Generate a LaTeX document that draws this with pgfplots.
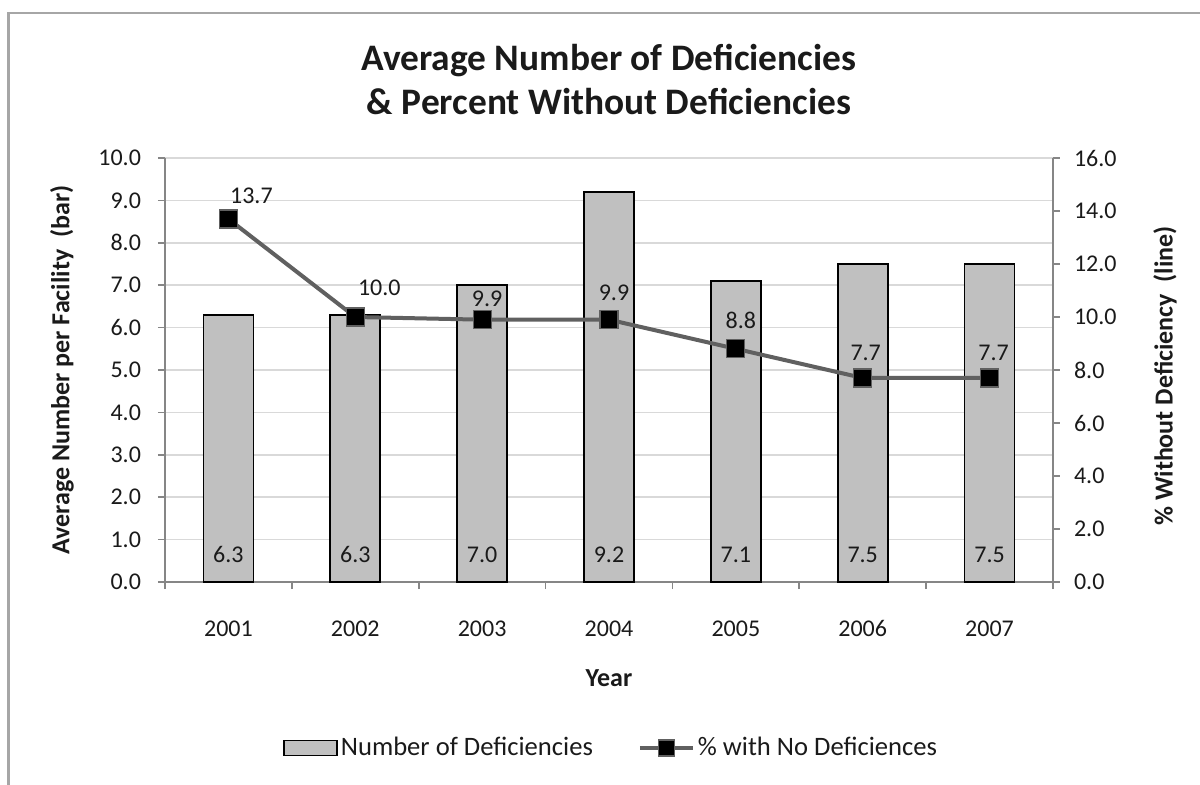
\documentclass[border=0pt]{standalone}
\usepackage{fontspec}
\setmainfont{Carlito}
\usepackage{pgfplots}
\usepackage{pgfplotstable}
\pgfplotsset{compat=1.18}

\definecolor{barfill}{HTML}{C0C0C0}
\definecolor{linegray}{HTML}{606060}
\definecolor{axisgray}{HTML}{868686}
\definecolor{gridgray}{HTML}{D9D9D9}
\definecolor{framegray}{HTML}{A6A6A6}
\definecolor{txt}{HTML}{1A1A1A}

% bars: average number of deficiencies per facility (laby = height of the value label)
\pgfplotstableread{
x year bars laby
0 2001 6.3 0.64
1 2002 6.3 0.64
2 2003 7.0 0.64
3 2004 9.2 0.64
4 2005 7.1 0.64
5 2006 7.5 0.64
6 2007 7.5 0.64
}\bardata

% line: percent without deficiencies (dx, dy = label offsets in pt)
\pgfplotstableread{
x pct dx dy
0 13.7 11.5 11.5
1 10.0 12.0 14.5
2 9.9 2.5 10.5
3 9.9 2.5 13.5
4 8.8 2.5 14.0
5 7.7 1.5 12.5
6 7.7 2.0 12.5
}\linedata

\newcommand\tickfont{\fontsize{12}{14}\selectfont}
\newcommand\labfont{\fontsize{13}{15}\selectfont\bfseries}

\begin{document}
\begin{tikzpicture}
\path[use as bounding box] (-82.5pt,-101pt) rectangle (517.5pt,291pt);
\clip (-82.5pt,-101pt) rectangle (517.5pt,291pt);
\draw[framegray, line width=1.2pt] (-78.25pt,-150pt) rectangle (560pt,284.5pt);

\pgfplotsset{
  base/.style={
    at={(0,0)}, anchor=south west,
    scale only axis, width=444pt, height=212pt,
    xmin=-0.5, xmax=6.5,
    tick align=outside,
    major tick length=3.5pt,
    axis line style={axisgray, line width=0.8pt},
    every tick/.style={axisgray, line width=0.8pt},
    tick label style={font=\tickfont, color=txt},
    yticklabel style={/pgf/number format/fixed, /pgf/number format/fixed zerofill,
      /pgf/number format/precision=1, /pgf/number format/assume math mode=true},
  },
}

\begin{axis}[
  base,
  ymin=0, ymax=10, ytick={0,1,...,10},
  axis x line*=bottom, axis y line*=left,
  ymajorgrids, grid style={gridgray, line width=0.8pt},
  xtick={0,...,6},
  xticklabels={2001,2002,2003,2004,2005,2006,2007},
  xtick style={draw=none},
  xticklabel style={anchor=north, text height=7.6pt, text depth=0pt, yshift=-12.5pt},
  yticklabel style={xshift=-5pt},
  extra x ticks={-0.5,0.5,...,6.5},
  extra x tick labels={},
  extra x tick style={xtick style={draw=axisgray, line width=0.8pt}, major tick length=3.5pt},
  xlabel={Year},
  every axis x label/.style={at={([yshift=-48pt]axis description cs:0.5,0)}, anchor=center, font=\labfont, color=txt},
  ylabel={Average Number per Facility\ \ (bar)},
  every axis y label/.style={at={([xshift=-51.5pt]axis description cs:0,0.5)}, rotate=90, anchor=center, font=\labfont, color=txt},
]
\addplot[ybar, bar width=25pt, fill=barfill, draw=black, line width=0.8pt]
  table[x=x, y=bars] {\bardata};
% value labels at the foot of each bar
\addplot[draw=none, mark=none,
  nodes near coords={\pgfmathprintnumber[fixed,fixed zerofill,precision=1,assume math mode=true]{\pgfplotspointmeta}},
  point meta=explicit,
  every node near coord/.append style={anchor=center, text height=7.6pt, text depth=0pt, font=\tickfont, color=txt},
] table[x=x, y=laby, meta=bars] {\bardata};
\end{axis}

\begin{axis}[
  base,
  ymin=0, ymax=16, ytick={0,2,...,16},
  axis x line=none, axis y line*=right,
  yticklabel style={xshift=3.5pt},
  ylabel={\% Without Deficiency\ \ (line)},
  every axis y label/.style={at={([xshift=56pt,yshift=-3pt]axis description cs:1,0.5)}, rotate=90, anchor=center, font=\labfont, color=txt},
  legend columns=-1,
  legend style={at={(0.503,-0.3915)}, anchor=center, draw=none, fill=none,
    font=\fontsize{13.3}{15}\selectfont, text=txt,
    nodes={inner sep=1.5pt},
    /tikz/every even column/.append style={column sep=21pt}},
]
\addlegendimage{legend image code/.code={
  \draw[fill=barfill, draw=black, line width=0.8pt] (0pt,-3.75pt) rectangle (26.5pt,3.75pt);}}
\addlegendentry{Number of Deficiencies}
\addplot[linegray, line width=2pt, mark=square*,
  mark options={mark size=4.5pt, fill=black, draw=linegray, line width=0.6pt},
  nodes near coords={\pgfmathprintnumber[fixed,fixed zerofill,precision=1,assume math mode=true]{\pgfplotspointmeta}},
  visualization depends on={\thisrow{dx} \as \dx},
  visualization depends on={\thisrow{dy} \as \dy},
  every node near coord/.append style={anchor=center, text height=7.6pt, text depth=0pt, xshift=\dx pt, yshift=\dy pt, font=\tickfont, color=txt},
  legend image code/.code={
    \draw[linegray, line width=2pt] (0pt,0pt) -- (26.5pt,0pt);
    \draw[fill=black, draw=linegray, line width=0.6pt] (9.25pt,-4pt) rectangle (17.25pt,4pt);},
] table[x=x, y=pct] {\linedata};
\addlegendentry{\% with No Deficiences}
\end{axis}

\node[anchor=base, font=\fontsize{18.7}{22}\selectfont\bfseries, text=txt] at (222pt,256pt) {Average Number of Deficiencies};
\node[anchor=base, font=\fontsize{18.7}{22}\selectfont\bfseries, text=txt] at (222pt,234pt) {\& Percent Without Deficiencies};
\end{tikzpicture}
\end{document}
